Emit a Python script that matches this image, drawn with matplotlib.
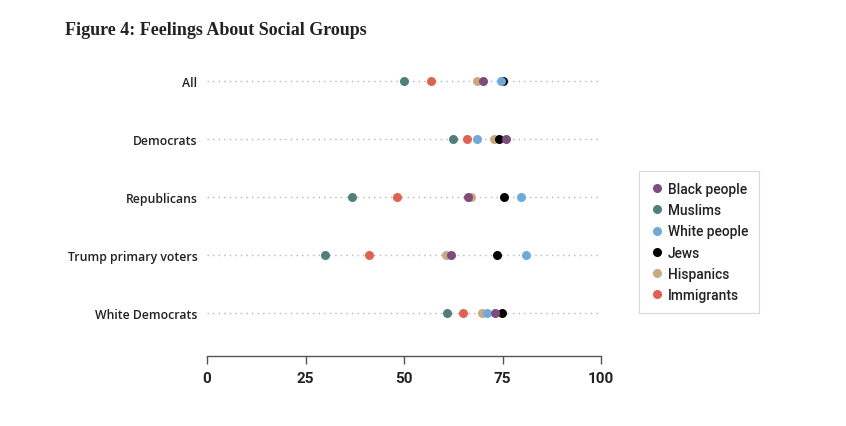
'''Figure 4: Feelings About Social Groups (dot plot)
'''
import matplotlib
matplotlib.use('Agg')
import matplotlib.pyplot as plt
from matplotlib.lines import Line2D

groups = ['All', 'Democrats', 'Republicans', 'Trump primary voters', 'White Democrats']

black_people = [70.0, 75.9, 66.3, 61.9, 73.1]
muslims = [50.0, 62.5, 36.9, 29.9, 60.9]
white_people = [74.5, 68.6, 79.7, 81.0, 71.1]
jews = [75.2, 74.0, 75.5, 73.7, 74.8]
hispanics = [68.4, 72.8, 66.9, 60.6, 69.9]
immigrants = [56.8, 65.9, 48.3, 41.2, 64.9]

series = [
    ('Black people', black_people, '#7d4b7c'),
    ('Muslims', muslims, '#4f7f7b'),
    ('White people', white_people, '#6badd8'),
    ('Jews', jews, '#000000'),
    ('Hispanics', hispanics, '#c9aa80'),
    ('Immigrants', immigrants, '#e2604f'),
]

fig = plt.figure(figsize=(8.46, 4.27), dpi=100)
ax = fig.add_axes([0.2447, 0.164, 0.4657, 0.7447])

ypos = list(range(len(groups)))
for y in ypos:
    ax.plot([0, 100], [y, y], linestyle=(0, (1, 3)), color='#b5b5b5', linewidth=1.0, zorder=1)

# later legend entries sit underneath earlier ones
n = len(series)
for i, (name, vals, color) in enumerate(series):
    ax.scatter(vals, ypos, s=42, color=color, zorder=10 + n - i, linewidths=0)

ax.set_xlim(0, 100)
ax.set_ylim(len(groups) - 1 + 0.741, -0.741)
ax.set_xticks([0, 25, 50, 75, 100])
ax.set_xticklabels(['0', '25', '50', '75', '100'], fontsize=11, fontweight='bold',
                   family=['Roboto', 'DejaVu Sans'], color='#222222')
ax.set_yticks(ypos)
ax.set_yticklabels(groups, fontsize=8.8, fontweight='semibold',
                   family=['Open Sans', 'DejaVu Sans'], color='#222222')
ax.tick_params(axis='y', length=0, pad=7)
ax.tick_params(axis='x', length=6, width=1, color='#555555', pad=5)
for side in ['top', 'right', 'left']:
    ax.spines[side].set_visible(False)
ax.spines['bottom'].set_color('#555555')
ax.spines['bottom'].set_linewidth(1)
ax.patch.set_visible(False)

handles = [Line2D([0], [0], marker='o', linestyle='', markersize=6.5,
                  markerfacecolor=c, markeredgewidth=0, label=name)
           for name, _, c in series]
leg = fig.legend(handles=handles, loc='center left', bbox_to_anchor=(0.7553, 0.4309),
                 frameon=True, fancybox=False, handletextpad=0.3, handlelength=1.0,
                 labelspacing=0.52, borderpad=0.8, borderaxespad=0,
                 prop={'family': ['Roboto', 'DejaVu Sans'], 'size': 9.9, 'weight': 'medium'})
leg.get_frame().set_edgecolor('#d0d0d0')
leg.get_frame().set_linewidth(0.8)
for t in leg.get_texts():
    t.set_color('#222222')

fig.text(0.077, 0.928, 'Figure 4: Feelings About Social Groups', fontsize=13,
         fontweight='bold', family=['Liberation Serif', 'DejaVu Serif'], color='#222222',
         va='center')

fig.savefig('out.png', dpi=100)
